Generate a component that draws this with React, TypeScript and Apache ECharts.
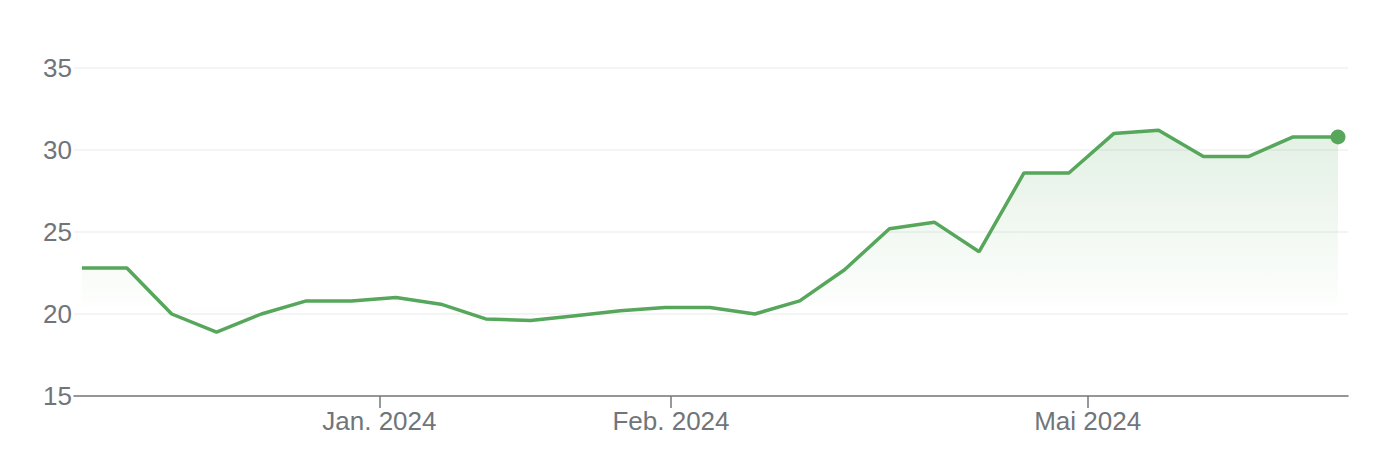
import React, { useEffect, useRef } from "react";
import * as echarts from "echarts";

const values: number[] = [
  22.8, 22.8, 20.0, 18.9, 20.0, 20.8, 20.8, 21.0, 20.6, 19.7,
  19.6, 19.9, 20.2, 20.4, 20.4, 20.0, 20.8, 22.7, 25.2, 25.6,
  23.8, 28.6, 28.6, 31.0, 31.2, 29.6, 29.6, 30.8, 30.8,
];
const tickPositions: number[] = [6.63, 13.13, 22.42];
const tickLabels: string[] = ["Jan. 2024", "Feb. 2024", "Mai 2024"];
const yTicks: number[] = [15, 20, 25, 30, 35];

export default function App() {
  const ref = useRef<HTMLDivElement>(null);
  useEffect(() => {
    if (!ref.current) return;
    const chart = echarts.init(ref.current, null, { renderer: "svg" });
    const data = values.map((v, i) => [i, v]);
    const lastIdx = values.length - 1;
    chart.setOption({
      animation: false,
      backgroundColor: "#ffffff",
      grid: { left: 74, right: 38, top: 68, bottom: 56, containLabel: false },
      xAxis: {
        type: "value",
        min: -0.178,
        max: 28.223,
        axisLine: { show: true, lineStyle: { color: "#75777a", width: 1.5 } },
        axisTick: {
          show: true,
          customValues: tickPositions,
          length: 12,
          lineStyle: { color: "#75777a", width: 1.5 },
        },
        axisLabel: {
          customValues: tickPositions,
          formatter: (v: number) => {
            const i = tickPositions.findIndex((p) => Math.abs(p - v) < 1e-6);
            return i >= 0 ? tickLabels[i] : "";
          },
          color: "#70757a",
          fontSize: 26,
          fontFamily: "Liberation Sans, Arial, sans-serif",
          margin: 12,
        },
        splitLine: { show: false },
      },
      yAxis: {
        type: "value",
        min: yTicks[0],
        max: yTicks[yTicks.length - 1],
        interval: 5,
        axisLine: { show: false },
        axisTick: { show: false },
        axisLabel: {
          color: "#70757a",
          fontSize: 26,
          fontFamily: "Liberation Sans, Arial, sans-serif",
          margin: 2,
        },
        splitLine: { show: true, lineStyle: { color: "#f0f0f0", width: 1.5 } },
      },
      series: [
        {
          type: "line",
          data: data,
          symbol: "circle",
          symbolSize: (_v: any, p: any) => (p.dataIndex === lastIdx ? 15 : 0),
          showSymbol: true,
          itemStyle: { color: "#56a65b" },
          lineStyle: { color: "#56a65b", width: 3.5 },
          areaStyle: {
            origin: 20.45,
            color: new echarts.graphic.LinearGradient(0, 0, 0, 1, [
              { offset: 0, color: "rgba(86,166,91,0.24)" },
              { offset: 0.85, color: "rgba(86,166,91,0.02)" },
              { offset: 1, color: "rgba(86,166,91,0)" },
            ]),
          },
          z: 3,
        },
      ],
    });
    return () => chart.dispose();
  }, []);
  return (
    <div
      ref={ref}
      style={{ position: "fixed", left: 0, top: 0, width: 1386, height: 452 }}
    />
  );
}
